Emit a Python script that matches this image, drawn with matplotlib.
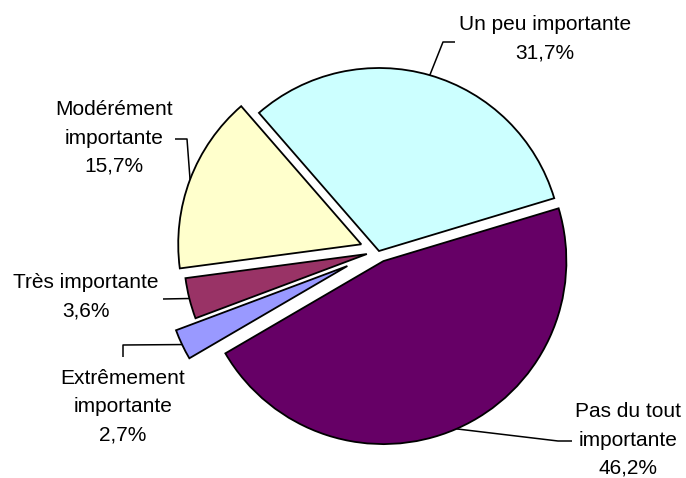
import math
import matplotlib
matplotlib.use("Agg")
import matplotlib.pyplot as plt

# ---- data ----
labels = ["Un peu importante", "Pas du tout\nimportante", "Extrêmement\nimportante",
          "Très importante", "Modérément\nimportante"]
values = [31.7, 46.2, 2.7, 3.6, 15.7]
pct_text = ["31,7%", "46,2%", "2,7%", "3,6%", "15,7%"]
colors = ["#CCFFFF", "#660066", "#9999FF", "#993366", "#FFFFCC"]

# ---- layout (pixel units) ----
W, H = 686, 478
center = (379, H - 251)
radius = 183
explode_px = [0, 11, 35, 12.5, 19]
# label centres and leader elbows (pixel coords measured from top)
label_pos = [(545, 39), (628, 440), (123, 407), (86, 297), (114, 138)]
elbows = [
    [(443, 42), (455, 42)],
    [(558, 441), (572, 441)],
    [(123, 345), (123, 357)],
    [(163, 299)],
    [(187, 139), (175, 139)],
]

plt.rcParams['font.family'] = ['Liberation Sans', 'DejaVu Sans']
fig = plt.figure(figsize=(W / 100, H / 100), dpi=100)
ax = fig.add_axes([0, 0, 1, 1])

wedges, _ = ax.pie(values, colors=colors, startangle=131, counterclock=False,
                   center=center, radius=radius, explode=explode_px,
                   wedgeprops=dict(edgecolor="black", linewidth=1.3))
ax.set_xlim(0, W)
ax.set_ylim(0, H)
ax.set_aspect('equal')
ax.axis('off')

for w, lab, pct, lp, el in zip(wedges, labels, pct_text, label_pos, elbows):
    tm = math.radians(0.5 * (w.theta1 + w.theta2))
    ax_ = w.center[0] + w.r * math.cos(tm)
    ay_ = w.center[1] + w.r * math.sin(tm)
    xs = [ax_] + [p[0] for p in el]
    ys = [ay_] + [H - p[1] for p in el]
    ax.plot(xs, ys, color="black", lw=1.1, solid_capstyle='butt')
    ax.text(lp[0], H - lp[1], lab + "\n" + pct, ha="center", va="center",
            multialignment="center", fontsize=15, linespacing=1.62, color="black")

fig.savefig("out.png", dpi=100)
